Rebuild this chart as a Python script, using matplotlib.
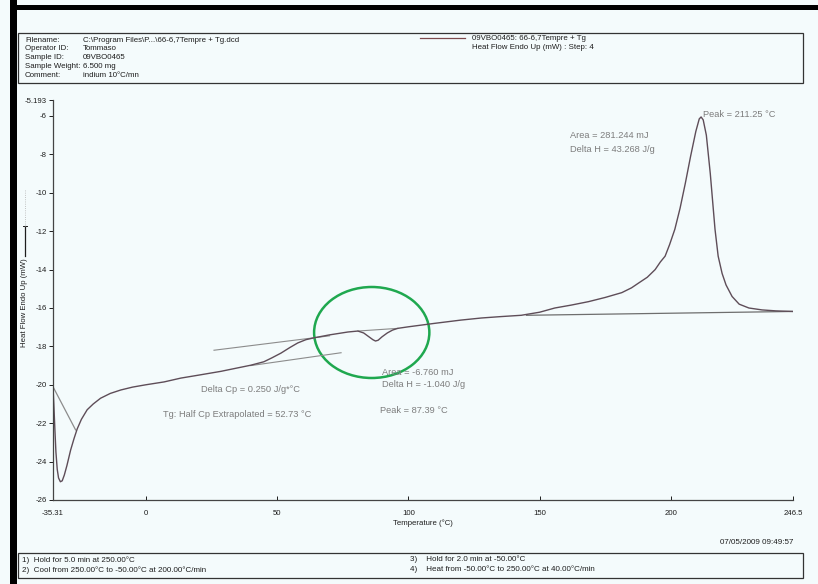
import matplotlib.pyplot as plt
from matplotlib.patches import Ellipse, Rectangle
from matplotlib.lines import Line2D

plt.rcParams['font.family'] = ['Liberation Sans', 'DejaVu Sans']

W, H = 818, 584

# DSC trace, heat flow (mW) vs temperature (°C)
temp = [-35.31, -35.0, -34.6, -34.2, -33.7, -33.2, -32.5, -31.8, -31.0, -30.0,
        -28.6, -27.3, -26.1, -24.5, -22.3, -20.0, -17.2, -13.5, -9.5, -5.0,
        0.0, 7.0, 13.4, 20.0, 28.6, 35.0, 40.0, 45.0, 48.0, 51.5,
        55.0, 57.9, 61.0, 64.2, 70.0, 77.0, 80.8, 83.0, 85.0, 86.5,
        87.5, 88.5, 90.0, 92.0, 94.0, 96.0, 100.0, 110.0, 120.0, 127.9,
        135.0, 143.0, 150.0, 155.8, 162.0, 168.6, 175.0, 181.3, 185.0, 187.7,
        191.0, 194.0, 196.0, 197.8, 199.5, 201.5, 203.5, 205.5, 207.5, 209.5,
        210.8, 211.5, 212.3, 213.5, 215.0, 216.8, 218.0, 219.5, 221.0, 223.3,
        226.0, 229.7, 234.7, 240.0, 246.5]
heat = [-20.1, -21.0, -22.3, -23.5, -24.4, -24.85, -25.05, -25.0, -24.7, -24.2,
        -23.4, -22.8, -22.3, -21.8, -21.3, -21.0, -20.7, -20.45, -20.27, -20.12,
        -20.0, -19.85, -19.65, -19.5, -19.3, -19.12, -18.98, -18.8, -18.6, -18.35,
        -18.05, -17.82, -17.65, -17.55, -17.4, -17.25, -17.2, -17.3, -17.5, -17.65,
        -17.72, -17.68, -17.5, -17.3, -17.15, -17.06, -16.98, -16.8, -16.63, -16.52,
        -16.45, -16.38, -16.22, -16.0, -15.85, -15.67, -15.45, -15.2, -14.95, -14.7,
        -14.4, -14.0, -13.6, -13.3, -12.7, -11.9, -10.8, -9.5, -8.1, -6.8,
        -6.15, -6.05, -6.2, -7.0, -9.0, -11.9, -13.3, -14.2, -14.8, -15.4,
        -15.8, -16.0, -16.1, -16.15, -16.18]

# construction lines drawn by the software
start_line_t = [-35.31, -26.7]
start_line_h = [-20.1, -22.35]
tg_upper_t = [26.0, 70.0]
tg_upper_h = [-18.2, -17.45]
tg_lower_t = [40.0, 74.4]
tg_lower_h = [-19.0, -18.33]
dip_base_t = [80.8, 96.0]
dip_base_h = [-17.2, -17.06]
peak_base_t = [145.0, 246.5]
peak_base_h = [-16.38, -16.18]

xticks = [-35.31, 0, 50, 100, 150, 200, 246.5]
xtick_labels = ['-35.31', '0', '50', '100', '150', '200', '246.5']
yticks = [-5.193, -6, -8, -10, -12, -14, -16, -18, -20, -22, -24, -26]
ytick_labels = ['-5.193', '-6', '-8', '-10', '-12', '-14', '-16', '-18', '-20',
                '-22', '-24', '-26']

header_keys = ['Filename:', 'Operator ID:', 'Sample ID:', 'Sample Weight:', 'Comment:']
header_vals = ['C:\\Program Files\\P...\\66-6,7Tempre + Tg.dcd', 'Tommaso',
               '09VBO0465', '6.500 mg', 'indium 10°C/mn']
legend_lines = ['09VBO0465: 66-6,7Tempre + Tg', 'Heat Flow Endo Up (mW) : Step: 4']
method_left = ['1)  Hold for 5.0 min at 250.00°C',
               '2)  Cool from 250.00°C to -50.00°C at 200.00°C/min']
method_right = ['3)    Hold for 2.0 min at -50.00°C',
                '4)    Heat from -50.00°C to 250.00°C at 40.00°C/min']


def fx(x):
    return x / W


def fy(y):
    return 1 - y / H


def tx(px):
    # pixel column -> temperature, for placing the labels
    return (px - 145) / 2.62


def hy(py):
    return -6 - (py - 116) / 19.2


paper = '#f4fbfc'
ink = '#1e1e1e'
grey = '#7d7d7d'
trace = '#5e4d58'

fig = plt.figure(figsize=(W / 100, H / 100), dpi=100, facecolor=paper)

# scanner edges
fig.add_artist(Rectangle((fx(10), 0), fx(7), 1, transform=fig.transFigure,
                         color='black', lw=0))
fig.add_artist(Rectangle((fx(10), fy(10)), 1, 5 / H, transform=fig.transFigure,
                         color='black', lw=0))

ax = fig.add_axes([fx(53), fy(500), fx(793) - fx(53), fy(100.5) - fy(500)])
ax.set_facecolor('none')
ax.set_xlim(-35.31, 246.5)
ax.set_ylim(-26, -5.193)
for s in ['top', 'right']:
    ax.spines[s].set_visible(False)
for s in ['left', 'bottom']:
    ax.spines[s].set_color('#444444')
    ax.spines[s].set_linewidth(0.9)

ax.set_xticks(xticks)
ax.set_xticklabels(xtick_labels)
ax.set_yticks(yticks)
ax.set_yticklabels(ytick_labels)
ax.tick_params(axis='x', direction='in', length=3, pad=7, labelsize=5.6,
               colors=ink, width=0.7)
ax.tick_params(axis='y', direction='out', length=3, pad=1.5, labelsize=5.6,
               colors=ink, width=0.7)
ax.set_xlabel('Temperature (°C)', fontsize=5.6, color=ink, labelpad=2)

ax.plot(start_line_t, start_line_h, color='#8c8c8c', lw=0.9)
ax.plot(tg_upper_t, tg_upper_h, color='#8c8c8c', lw=0.8)
ax.plot(tg_lower_t, tg_lower_h, color='#8c8c8c', lw=0.8)
ax.plot(dip_base_t, dip_base_h, color='#8c8c8c', lw=0.8)
ax.plot(peak_base_t, peak_base_h, color='#6e6e6e', lw=0.9)
ax.plot(temp, heat, color=trace, lw=1.0)

# annotations
ann = dict(fontsize=6.7, color=grey, va='center')
ax.text(tx(568), hy(136), 'Area = 281.244 mJ', **ann)
ax.text(tx(568), hy(150), 'Delta H = 43.268 J/g', **ann)
ax.text(tx(701), hy(115), 'Peak = 211.25 °C', **ann)
ax.text(tx(200), hy(390), 'Delta Cp = 0.250 J/g*°C', **ann)
ax.text(tx(162), hy(415), 'Tg: Half Cp Extrapolated = 52.73 °C', **ann)
ax.text(tx(381), hy(373), 'Area = -6.760 mJ', **ann)
ax.text(tx(381), hy(385), 'Delta H = -1.040 J/g', **ann)
ax.text(tx(379), hy(411), 'Peak = 87.39 °C', **ann)

# hand-drawn green circle
ax.add_patch(Ellipse((tx(370.5), hy(332.5)), 115 / 2.62, 91 / 19.2, fill=False,
                     edgecolor='#1fa84f', lw=1.8))

# y label with its legend stroke
fig.text(fx(25), fy(303), 'Heat Flow Endo Up (mW)', rotation=90, fontsize=5.6,
         color=ink, ha='center', va='center')
fig.add_artist(Line2D([fx(25), fx(25)], [fy(226), fy(256)], transform=fig.transFigure,
                      color=ink, lw=0.9))
fig.add_artist(Line2D([fx(23), fx(27)], [fy(226), fy(226)], transform=fig.transFigure,
                      color=ink, lw=0.7))
fig.add_artist(Line2D([fx(25), fx(25)], [fy(190), fy(226)], transform=fig.transFigure,
                      color='#b0b0b0', lw=0.6, ls=':'))

# header box
fig.add_artist(Rectangle((fx(18), fy(83)), fx(803) - fx(18), fy(33) - fy(83),
                         transform=fig.transFigure, fill=False, edgecolor='#333333', lw=0.9))
hdr = dict(fontsize=5.7, color=ink, va='center')
for i, (k, v) in enumerate(zip(header_keys, header_vals)):
    fig.text(fx(25), fy(40 + i * 8.8), k, **hdr)
    fig.text(fx(83), fy(40 + i * 8.8), v, **hdr)
fig.add_artist(Line2D([fx(420), fx(465)], [fy(38), fy(38)], transform=fig.transFigure,
                      color='#7d4a4d', lw=0.9))
for i, t in enumerate(legend_lines):
    fig.text(fx(472), fy(39 + i * 8.5), t, **hdr)

# footer
ftr = dict(fontsize=5.8, color=ink, va='center')
fig.text(fx(793), fy(543), '07/05/2009 09:49:57', ha='right', **ftr)
fig.add_artist(Rectangle((fx(18), fy(578)), fx(803) - fx(18), fy(553) - fy(578),
                         transform=fig.transFigure, fill=False, edgecolor='#333333', lw=0.9))
for i, t in enumerate(method_left):
    fig.text(fx(22), fy(560 + i * 10), t, **ftr)
for i, t in enumerate(method_right):
    fig.text(fx(410), fy(559 + i * 10), t, **ftr)

fig.savefig('out.png', dpi=100, facecolor=paper)
